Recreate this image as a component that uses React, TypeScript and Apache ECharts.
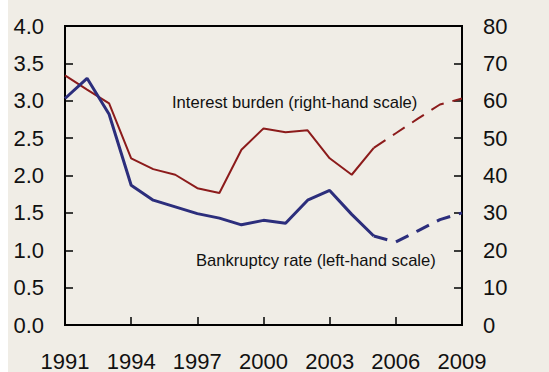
import React, { useEffect, useRef } from "react";
import * as echarts from "echarts";

const years = ["1991","1992","1993","1994","1995","1996","1997","1998","1999","2000","2001","2002","2003","2004","2005","2006","2007","2008","2009"];
const bankruptcyActual = [3.03, 3.3, 2.82, 1.87, 1.67, 1.58, 1.49, 1.43, 1.34, 1.4, 1.36, 1.67, 1.8, 1.48, 1.19, null, null, null, null];
const bankruptcyForecast = [null, null, null, null, null, null, null, null, null, null, null, null, null, null, 1.19, 1.11, 1.26, 1.41, 1.5];
const interestActual = [66.8, 63, 59.3, 44.6, 41.7, 40.2, 36.6, 35.3, 46.9, 52.6, 51.6, 52.1, 44.6, 40.2, 47.4, null, null, null, null];
const interestForecast = [null, null, null, null, null, null, null, null, null, null, null, null, null, null, 47.4, 51.3, 55.2, 59, 60.6];

const BLUE = "#2C2E7C";
const RED = "#8C1B1B";
const BG = "#F0EDE6";

export default function App() {
  const ref = useRef<HTMLDivElement>(null);
  useEffect(() => {
    if (!ref.current) return;
    const chart = echarts.init(ref.current, undefined, { renderer: "svg" });
    const axisLabel = { color: "#111", fontSize: 22, fontFamily: "Liberation Sans, Arial, sans-serif" };
    chart.setOption({
      animation: false,
      backgroundColor: BG,
      grid: { left: 57, right: 87, top: 26, bottom: 46, show: true, borderColor: "#000", borderWidth: 2, backgroundColor: "transparent" },
      xAxis: {
        type: "category",
        data: years,
        boundaryGap: false,
        axisLine: { lineStyle: { color: "#000", width: 2 } },
        axisTick: { inside: true, length: 8, interval: 2, lineStyle: { color: "#000", width: 1.5 } },
        axisLabel: { ...axisLabel, interval: 2, margin: 25 },
        splitLine: { show: false },
      },
      yAxis: [
        {
          type: "value", min: 0, max: 4, interval: 0.5, position: "left",
          axisLine: { show: true, lineStyle: { color: "#000", width: 2 } },
          axisTick: { show: true, inside: true, length: 8, lineStyle: { color: "#000", width: 1.5 } },
          axisLabel: { ...axisLabel, margin: 21, formatter: (v: number) => v.toFixed(1) },
          splitLine: { show: false },
        },
        {
          type: "value", min: 0, max: 80, interval: 10, position: "right",
          axisLine: { show: true, lineStyle: { color: "#000", width: 2 } },
          axisTick: { show: true, inside: true, length: 8, lineStyle: { color: "#000", width: 1.5 } },
          axisLabel: { ...axisLabel, margin: 21 },
          splitLine: { show: false },
        },
      ],
      series: [
        { type: "line", yAxisIndex: 1, data: interestActual, symbol: "none", lineStyle: { color: RED, width: 2 }, z: 2 },
        { type: "line", yAxisIndex: 1, data: interestForecast, symbol: "none", lineStyle: { color: RED, width: 2, type: [14, 9] }, z: 2 },
        { type: "line", yAxisIndex: 0, data: bankruptcyActual, symbol: "none", lineStyle: { color: BLUE, width: 3 }, z: 3 },
        { type: "line", yAxisIndex: 0, data: bankruptcyForecast, symbol: "none", lineStyle: { color: BLUE, width: 3, type: [14, 9] }, z: 3 },
      ],
      graphic: [
        { type: "text", left: 164, top: 94, style: { text: "Interest burden (right-hand scale)", fontSize: 16.6, fill: "#111", fontFamily: "Liberation Sans, Arial, sans-serif" } },
        { type: "text", left: 188, top: 252, style: { text: "Bankruptcy rate (left-hand scale)", fontSize: 16.6, fill: "#111", fontFamily: "Liberation Sans, Arial, sans-serif" } },
      ],
    });
    return () => chart.dispose();
  }, []);
  return <div ref={ref} style={{ position: "fixed", left: 8, top: 0, width: 541, height: 372 }} />;
}
